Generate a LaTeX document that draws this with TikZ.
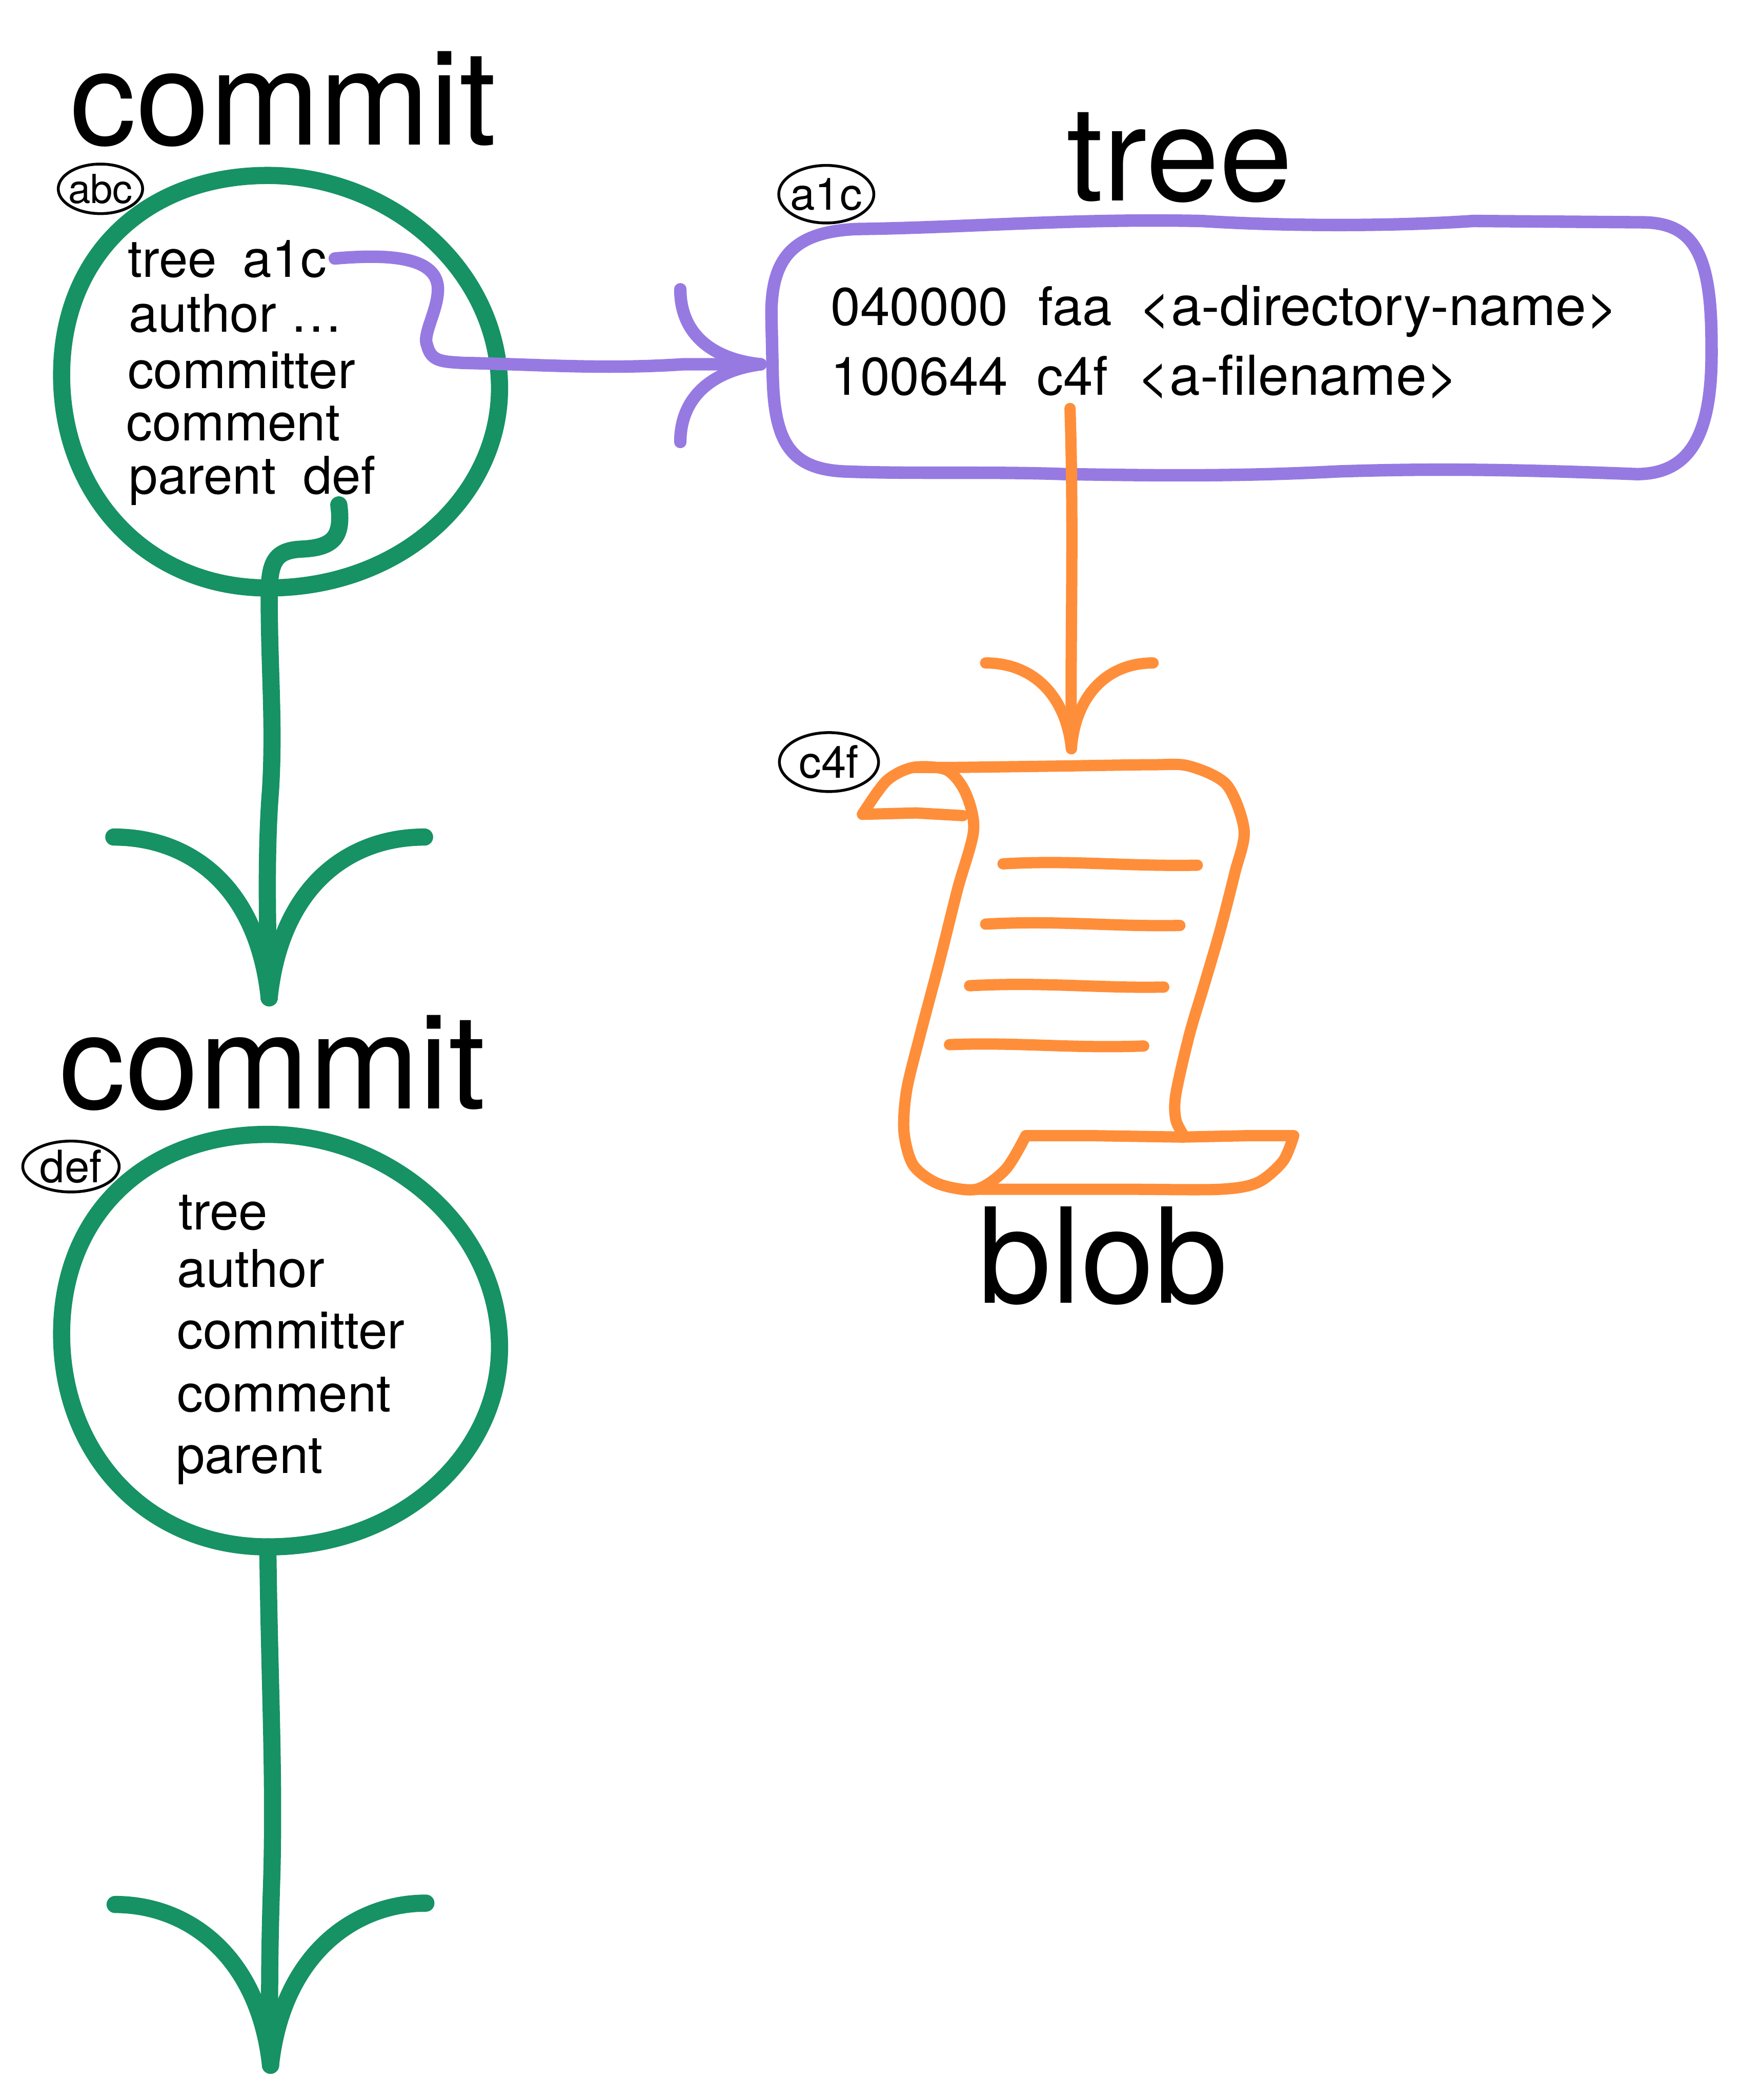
\documentclass[tikz,border=0pt]{standalone}
\usepackage{fontspec}
\setmainfont{TeX Gyre Heros}
\usepackage{xcolor}
\usetikzlibrary{shapes.geometric,arrows.meta,positioning,calc}
\definecolor{commitgreen}{RGB}{22,146,100}
\definecolor{treepurple}{RGB}{150,122,226}
\definecolor{bloborange}{RGB}{255,142,58}
\begin{document}
\begin{tikzpicture}[
      x=0.02cm, y=-0.02cm,
      title/.style={anchor=base west, inner sep=0pt, font=\fontsize{56.2}{60}\selectfont},
      entry/.style={anchor=base west, inner sep=0pt, font=\fontsize{22.1}{24}\selectfont},
      modeentry/.style={entry, font=\fontsize{22.6}{24}\selectfont},
      nameentry/.style={entry, font=\fontsize{23.4}{26}\selectfont},
      idbadge/.style={ellipse, draw=black, line width=1.2pt, inner sep=-4pt,
                      font=\fontsize{19}{20}\selectfont},
      greenline/.style={draw=commitgreen, line width=7.3pt, line cap=round, line join=round},
      purpleline/.style={draw=treepurple, line width=5.3pt, line cap=round, line join=round},
      orangeline/.style={draw=bloborange, line width=4.8pt, line cap=round, line join=round},
    ]
      \useasboundingbox (0,0) rectangle (1300,1568);
      % first commit
      \draw[greenline] (200,131) .. controls (290,131) and (373,200) .. (373,290)
            .. controls (373,370) and (300,439) .. (200,439)
            .. controls (110,439) and (46,370) .. (46,280)
            .. controls (46,190) and (110,131) .. (200,131) -- cycle;
      \node[title] (commitone) at (52,108) {commit};
      \node[idbadge, minimum width=63*0.02cm, minimum height=37*0.02cm,
            font=\fontsize{17}{18}\selectfont] (abc) at (75,141) {abc};
      \node[entry] (treeone) at (95,207) {tree};
      \node[entry] (a1cref) at (181,207) {a1c};
      \node[entry] (authorone) at (96,248) {author …};
      \node[entry] (committerone) at (95,290) {committer};
      \node[entry] (commentone) at (94,329) {comment};
      \node[entry] (parentone) at (96,369) {parent};
      \node[entry] (defref) at (226,369) {def};
      % second commit
      \draw[greenline] (200,847) .. controls (290,847) and (373,916) .. (373,1006)
            .. controls (373,1086) and (300,1155) .. (200,1155)
            .. controls (110,1155) and (46,1086) .. (46,996)
            .. controls (46,906) and (110,847) .. (200,847) -- cycle;
      \node[title] (committwo) at (44,828) {commit};
      \node[idbadge, minimum width=72*0.02cm, minimum height=38*0.02cm] (def) at (53,871) {def};
      \node[entry] (treetwo) at (133,918) {tree};
      \node[entry] (authortwo) at (132,961) {author};
      \node[entry] (committertwo) at (132,1007) {committer};
      \node[entry] (commenttwo) at (132,1054) {comment};
      \node[entry] (parenttwo) at (131,1100) {parent};
      % tree
      \node[title] (treetitle) at (796,150) {tree};
      \node[idbadge, minimum width=71*0.02cm, minimum height=43*0.02cm] (a1c) at (617,145) {a1c};
      \draw[purpleline] (640,171) .. controls (720,170) and (800,163) .. (897,165)
            .. controls (960,169) and (1040,169) .. (1100,165) -- (1228,166)
            .. controls (1265,167) and (1278,190) .. (1278,257)
            .. controls (1279,320) and (1265,354) .. (1222,354)
            .. controls (1120,350) and (1060,350) .. (999,352)
            .. controls (920,356) and (860,355) .. (795,354)
            .. controls (740,352) and (680,354) .. (630,352)
            .. controls (590,350) and (578,330) .. (577,280) -- (576,235)
            .. controls (576,195) and (590,173) .. (640,171) -- cycle;
      \node[modeentry] (dirmode) at (620,243) {040000};
      \node[modeentry] (dirhash) at (775,243) {faa};
      \node[nameentry] (dirname) at (850,243) {<a-directory-name>};
      \node[modeentry] (filemode) at (620,295) {100644};
      \node[modeentry] (c4fref) at (774,295) {c4f};
      \node[nameentry] (filename) at (849,295) {<a-filename>};
      % blob scroll
      \node[idbadge, minimum width=74*0.02cm, minimum height=44*0.02cm] (c4f) at (619,569) {c4f};
      \draw[orangeline] plot[smooth] coordinates {(644,608) (662,583) (682,573) (707,575)
            (721,592) (727,620) (715,664) (701,720) (687,773) (677,814) (675,845) (682,870)
            (701,884) (729,888) (751,873) (766,848)};
      \draw[orangeline] (644,608) -- (684,607) -- (719,609);
      \draw[orangeline] plot[smooth] coordinates {(682,573) (712,573) (790,572) (860,571)
            (888,572) (916,586) (929,620) (922,652) (911,695) (899,736) (888,773) (878,817)
            (878,836) (884,848)};
      \draw[orangeline] plot[smooth] coordinates {(729,888) (790,888) (846,888) (911,888)
            (939,883) (958,867) (966,848)};
      \draw[orangeline] (966,848) -- (930,848) -- (883,849) -- (818,848) -- (766,848);
      \draw[orangeline] (749,645) .. controls (800,642) and (840,647) .. (894,646);
      \draw[orangeline] (736,690) .. controls (790,687) and (830,692) .. (881,691);
      \draw[orangeline] (724,736) .. controls (780,733) and (820,738) .. (869,737);
      \draw[orangeline] (709,780) .. controls (760,778) and (800,783) .. (854,781);
      \node[title] (blobtitle) at (730,973) {blob};
      % connector ends
      \coordinate (a1cout) at (250,193);
      \coordinate (treetip) at (568,272);
      \coordinate (defout) at (253,377);
      \coordinate (nexttip) at (201,745);
      \coordinate (ringtwoout) at (200,1155);
      \coordinate (lasttip) at (202,1542);
      \coordinate (c4fout) at (799,305);
      \coordinate (blobtip) at (800,559);
      % connectors
      \draw[greenline] (defout) .. controls (256,400) and (250,409) .. (225,410)
            .. controls (205,411) and (201,420) .. (201,445)
            .. controls (201,500) and (205,540) .. (202,590)
            .. controls (198,640) and (200,700) .. (nexttip);
      \draw[greenline] (85,625) .. controls (140,625) and (192,660) .. (nexttip);
      \draw[greenline] (317,625) .. controls (262,625) and (210,660) .. (nexttip);
      \draw[greenline] (ringtwoout) .. controls (201,1250) and (205,1320) .. (203,1400)
            .. controls (201,1460) and (201,1500) .. (lasttip);
      \draw[greenline] (86,1422) .. controls (140,1422) and (193,1460) .. (lasttip);
      \draw[greenline] (318,1421) .. controls (264,1421) and (211,1460) .. (lasttip);
      \draw[purpleline] (a1cout) .. controls (285,190) and (327,190) .. (327,216)
            .. controls (327,232) and (315,250) .. (319,258)
            .. controls (322,270) and (330,270) .. (346,271)
            .. controls (400,272) and (450,276) .. (510,272) -- (treetip);
      \draw[purpleline] (508,216) .. controls (508,248) and (530,268) .. (treetip);
      \draw[purpleline] (508,330) .. controls (508,298) and (530,277) .. (treetip);
      \draw[orangeline] (c4fout) .. controls (802,400) and (799,480) .. (blobtip);
      \draw[orangeline] (736,495) .. controls (772,495) and (796,520) .. (blobtip);
      \draw[orangeline] (861,495) .. controls (826,495) and (803,520) .. (blobtip);
    \end{tikzpicture}
\end{document}
